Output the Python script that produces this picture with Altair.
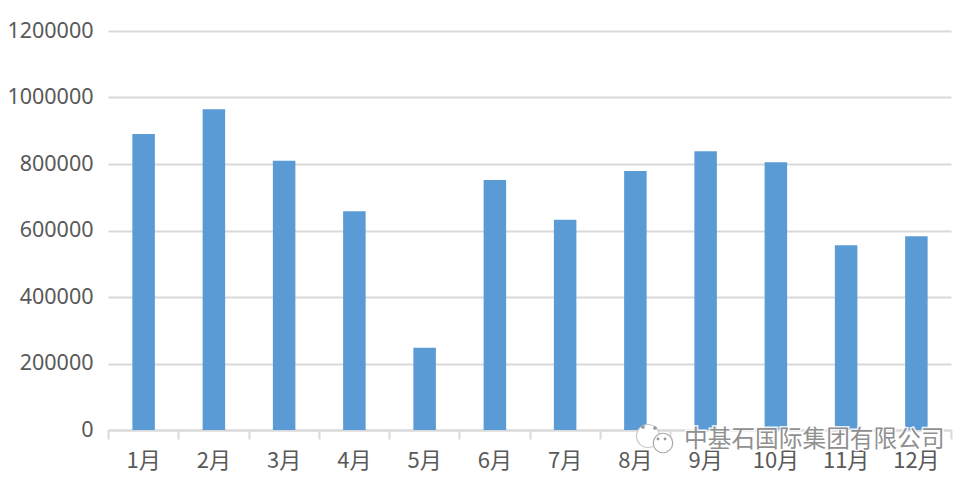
import altair as alt
import pandas as pd

months = ["1月", "2月", "3月", "4月", "5月", "6月", "7月", "8月", "9月", "10月", "11月", "12月"]
values = [890000, 965000, 810000, 658000, 247000, 752000, 632000, 779000, 838000, 805000, 556000, 583000]
y_ticks = [0, 200000, 400000, 600000, 800000, 1000000, 1200000]
watermark = ["中基石国际集团有限公司"]

FONT = "Noto Sans CJK SC"
df = pd.DataFrame({"month": months, "value": values})

bars = alt.Chart(df).mark_bar(color="#5b9bd5", size=22.5, xOffset=0.5).encode(
    x=alt.X("month:N", sort=months, title=None,
            scale=alt.Scale(paddingInner=0, paddingOuter=0),
            axis=alt.Axis(labelAngle=0, labelFont=FONT, labelFontSize=22, labelColor="#595959",
                          labelPadding=11, domainColor="#d9d9d9", domainWidth=2,
                          tickColor="#d9d9d9", tickWidth=2, tickSize=9, tickBand="extent",
                          grid=False)),
    y=alt.Y("value:Q", title=None,
            scale=alt.Scale(domain=[0, 1200000], nice=False),
            axis=alt.Axis(values=y_ticks, format="d", labelFont="Noto Sans", labelFontSize=21.5,
                          labelColor="#595959", labelPadding=15, domain=False, ticks=False,
                          tickSize=0, grid=True, gridColor="#d9d9d9", gridWidth=2)),
)

wm_df = pd.DataFrame({"label": watermark})
wm_halo = alt.Chart(wm_df).mark_text(
    font=FONT, fontSize=23.7, align="left", baseline="middle",
    stroke="white", strokeWidth=3, fill="white", opacity=0.85,
).encode(x=alt.value(576), y=alt.value(409), text="label:N")
wm_text = alt.Chart(wm_df).mark_text(
    font=FONT, fontSize=23.7, align="left", baseline="middle", fill="#909090",
).encode(x=alt.value(576), y=alt.value(409), text="label:N")

icon_big = alt.Chart(wm_df).mark_point(
    shape="circle", filled=True, fill="white", stroke="#c8c8c8", strokeWidth=1.2, size=530, opacity=1,
).encode(x=alt.value(540), y=alt.value(405))
icon_small = alt.Chart(wm_df).mark_point(
    shape="circle", filled=True, fill="white", stroke="#a8a8a8", strokeWidth=1.2, size=380, opacity=1,
).encode(x=alt.value(555), y=alt.value(412))
icon_dots = alt.layer(*[
    alt.Chart(wm_df).mark_point(shape="circle", filled=True, fill="#999999", size=s, opacity=1, strokeWidth=0)
    .encode(x=alt.value(px), y=alt.value(py))
    for px, py, s in [(535, 396, 14), (547, 397, 14), (550, 408, 8), (557, 408, 8)]
])

chart = alt.layer(bars, icon_big, icon_small, icon_dots, wm_halo, wm_text).properties(
    width=843, height=399,
    padding={"left": 100, "top": 23, "right": 5, "bottom": 48},
    autosize=alt.AutoSizeParams(type="none"),
    background="white",
).configure_view(stroke=None)

chart.save("out.html", embed_options={"renderer": "svg", "actions": False})
